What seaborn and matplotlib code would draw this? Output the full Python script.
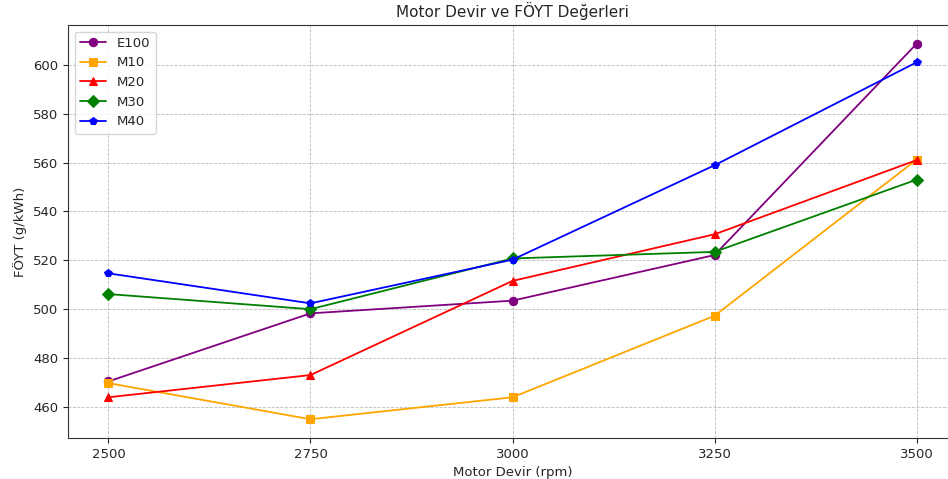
import pandas as pd
import matplotlib.pyplot as plt
import seaborn as sns

sns.set_style("ticks")

rpm = [2500, 2750, 3000, 3250, 3500]
e100 = [470.3, 498.2, 503.4, 522.1, 608.7]
m10 = [469.6, 454.8, 463.8, 497.2, 561.2]
m20 = [463.8, 472.9, 511.5, 530.6, 561.0]
m30 = [506.1, 499.9, 520.7, 523.4, 553.0]
m40 = [514.6, 502.3, 520.2, 558.9, 601.1]
fuels = ["E100", "M10", "M20", "M30", "M40"]
colors = ["purple", "orange", "red", "green", "blue"]
marks = ["o", "s", "^", "D", "p"]

#long table for seaborn
df = pd.DataFrame({"Motor Devir": rpm * 5,
                   "FÖYT": e100 + m10 + m20 + m30 + m40,
                   "Yakıt": [f for f in fuels for _ in rpm]})

fig = plt.figure(figsize=(9.48, 4.79), dpi=100)
ax = fig.add_axes([68 / 948, 41 / 479, 889 / 948, 413 / 479])
sns.lineplot(data=df, x="Motor Devir", y="FÖYT", hue="Yakıt", style="Yakıt",
             palette=dict(zip(fuels, colors)), markers=dict(zip(fuels, marks)),
             dashes=False, markersize=6, markeredgecolor=None, linewidth=1.3, ax=ax)
for line, c in zip(ax.lines, colors):
    line.set_markeredgecolor(c)

ax.set_xlim(2450, 3550)
ax.set_xticks(rpm)
ax.grid(True, linestyle="--", linewidth=0.6, color="#bbbbbb")
ax.set_title("Motor Devir ve FÖYT Değerleri", fontsize=11)
ax.set_xlabel("Motor Devir (rpm)", fontsize=9.5)
ax.set_ylabel("FÖYT (g/kWh)", fontsize=9.5)
ax.tick_params(labelsize=9.5)
for s in ax.spines.values():
    s.set_color("#333333")
ax.legend(loc="upper left", fontsize=9.5, handlelength=2)

fig.savefig("out.png", dpi=100)
